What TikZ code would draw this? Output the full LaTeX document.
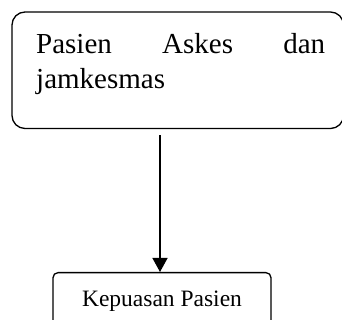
\documentclass[tikz,border=0pt]{standalone}
\usepackage{fontspec}
\setmainfont{Liberation Serif}
\usetikzlibrary{arrows.meta}
\begin{document}
\begin{tikzpicture}[x=1pt,y=1pt,
  bigbox/.style={draw, line width=1.3pt, rounded corners=13pt, minimum width=331.5pt, minimum height=116.5pt, inner sep=0pt},
  smallbox/.style={draw, line width=1.3pt, rounded corners=5pt, minimum width=218pt, inner xsep=0pt, inner ysep=0pt, text height=34pt, text depth=26pt, anchor=north, font=\fontsize{23.5}{28}\selectfont},
  bigtext/.style={anchor=base west, text width=289pt, align=left, inner sep=0pt, font=\fontsize{29}{35}\selectfont},
  arr/.style={line width=1.3pt, -{Triangle[length=14pt, width=15pt]}}]
\useasboundingbox (0,0) rectangle (342,320);
\node[bigbox] (top) at (177.75,249.75) {};
\node[bigtext] (toptext) at (36,266.5) {Pasien\hfill Askes\hfill dan\\jamkesmas};
\node[smallbox] (bot) at (162,48) {Kepuasan Pasien};
\coordinate (ax) at (160,0);
\draw[arr, shorten <=6pt] (top.south -| ax) -- (bot.north -| ax);
\end{tikzpicture}
\end{document}
